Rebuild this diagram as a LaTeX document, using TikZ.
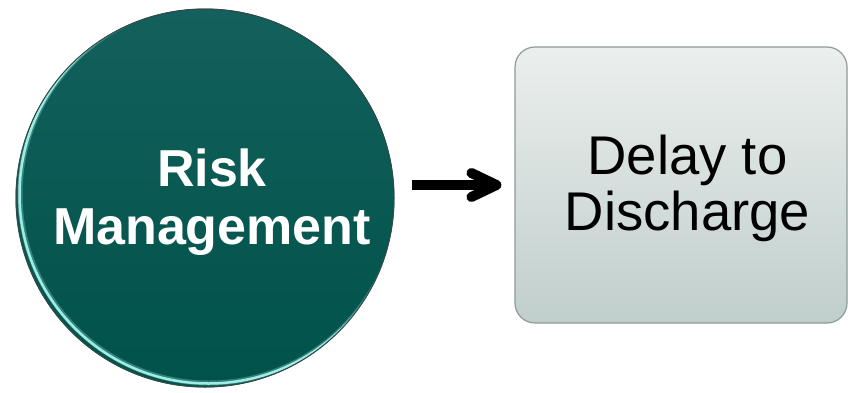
\documentclass[tikz,border=0pt]{standalone}
\usepackage{fontspec}
\setmainfont{Liberation Sans}
\usetikzlibrary{arrows.meta,calc}
\definecolor{tealtop}{HTML}{13605C}
\definecolor{tealbot}{HTML}{00524A}
\definecolor{rimcyan}{HTML}{9FEDE4}
\definecolor{rimdark}{HTML}{2E4B48}
\definecolor{boxtop}{HTML}{EBEFED}
\definecolor{boxbot}{HTML}{C0CECC}
\definecolor{boxline}{HTML}{8E9B99}
\tikzset{
  bigcirc/.style={circle, minimum size=378pt, inner sep=0pt, top color=tealtop, bottom color=tealbot, draw=rimdark, line width=0.8pt},
  roundbox/.style={rectangle, rounded corners=20pt, minimum width=332pt, minimum height=276pt, inner sep=0pt, top color=boxtop, bottom color=boxbot, draw=boxline, line width=1.2pt},
  rmtext/.style={align=center, inner sep=0pt, text=white, font=\fontsize{52}{58}\selectfont\bfseries},
  dtext/.style={align=center, inner sep=0pt, text=black, font=\fontsize{54.5}{56}\selectfont},
  bigarrow/.style={line width=10pt, black, -{Straight Barb[length=25pt, width=24pt, round]}}
}
\begin{document}
\begin{tikzpicture}[x=1pt,y=-1pt]
\useasboundingbox (0,0) rectangle (848,392);
\fill[white] (0,0) rectangle (848,392);
\node[bigcirc] (circ) at (205,198) {};
\begin{scope}
  \clip (circ.center) circle[radius=189];
  \draw[rimcyan, line width=5pt, opacity=0.3] ($(circ.center)+(4,-4)$) circle[radius=189];
  \draw[rimcyan, line width=2.5pt] ($(circ.center)+(3.5,-3.5)$) circle[radius=189];
\end{scope}
\draw[rimdark, line width=1pt] (circ.center) circle[radius=189];
\node[roundbox] (box) at (681,185) {};
\node[rmtext] (rmt) at (212,202) {Risk\\Management};
\node[dtext] (dtt) at (687.5,188) {Delay to\\Discharge};
\draw[bigarrow, shorten <=18pt, shorten >=13pt] (circ.east |- box.west) -- (box.west);
\end{tikzpicture}
\end{document}
